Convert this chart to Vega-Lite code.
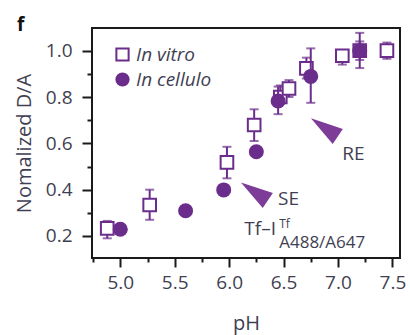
{
  "$schema": "https://vega.github.io/schema/vega-lite/v6.json",
  "width": 308,
  "height": 230,
  "autosize": "none",
  "padding": {"left": 92, "top": 28, "right": 10, "bottom": 77},
  "background": "white",
  "title": {"text": "f", "anchor": "start", "frame": "group", "dx": -75, "dy": 22, "offset": 0, "baseline": "alphabetic", "font": "Open Sans", "fontSize": 19, "fontWeight": "bold", "color": "#111111"},
  "config": {
    "view": {"stroke": "#1a1a1a", "strokeWidth": 2},
    "axis": {"labelFont": "Open Sans", "titleFont": "Open Sans", "labelColor": "#3f3f52", "titleColor": "#3f3f52", "tickColor": "#1a1a1a", "tickWidth": 2, "domain": false, "grid": false, "labelFontSize": 19, "titleFontSize": 20, "titleFontWeight": "normal"}
  },
  "datasets": {
    "pts": [
      {"series": "In vitro", "pH": 4.88, "y": 0.233, "lo": 0.19, "hi": 0.265},
      {"series": "In vitro", "pH": 5.27, "y": 0.334, "lo": 0.27, "hi": 0.40},
      {"series": "In vitro", "pH": 5.98, "y": 0.518, "lo": 0.449, "hi": 0.585},
      {"series": "In vitro", "pH": 6.23, "y": 0.679, "lo": 0.61, "hi": 0.747},
      {"series": "In vitro", "pH": 6.47, "y": 0.80, "lo": 0.77, "hi": 0.85},
      {"series": "In vitro", "pH": 6.55, "y": 0.837, "lo": 0.80, "hi": 0.873},
      {"series": "In vitro", "pH": 6.71, "y": 0.924, "lo": 0.88, "hi": 0.97},
      {"series": "In vitro", "pH": 7.04, "y": 0.978, "lo": 0.94, "hi": 1.0},
      {"series": "In vitro", "pH": 7.2, "y": 1.0, "lo": 0.96, "hi": 1.04},
      {"series": "In vitro", "pH": 7.45, "y": 1.0, "lo": 0.965, "hi": 1.035},
      {"series": "In cellulo", "pH": 5.0, "y": 0.229, "lo": 0.229, "hi": 0.229},
      {"series": "In cellulo", "pH": 5.6, "y": 0.309, "lo": 0.309, "hi": 0.309},
      {"series": "In cellulo", "pH": 5.95, "y": 0.399, "lo": 0.399, "hi": 0.399},
      {"series": "In cellulo", "pH": 6.25, "y": 0.564, "lo": 0.564, "hi": 0.564},
      {"series": "In cellulo", "pH": 6.45, "y": 0.783, "lo": 0.726, "hi": 0.845},
      {"series": "In cellulo", "pH": 6.75, "y": 0.889, "lo": 0.775, "hi": 1.01},
      {"series": "In cellulo", "pH": 7.2, "y": 1.0, "lo": 0.925, "hi": 1.077}
    ],
    "wedges": [
      {"name": "SE", "pH": 6.232, "y": 0.392},
      {"name": "RE", "pH": 6.875, "y": 0.669}
    ],
    "labels": [
      {"text": "SE", "pH": 6.45, "y": 0.334},
      {"text": "RE", "pH": 7.04, "y": 0.528},
      {"text": "Tf–I", "pH": 6.14, "y": 0.204}
    ],
    "sup": [{"text": "Tf", "pH": 6.46, "y": 0.236}],
    "sub": [{"text": "A488/A647", "pH": 6.46, "y": 0.147}],
    "xminor": [{"v": 4.75}, {"v": 5.25}, {"v": 5.75}, {"v": 6.25}, {"v": 6.75}, {"v": 7.25}],
    "yminor": [{"v": 0.3}, {"v": 0.5}, {"v": 0.7}, {"v": 0.9}]
  },
  "resolve": {"axis": {"x": "independent", "y": "independent"}},
  "layer": [
    {
      "data": {"name": "pts"},
      "transform": [{"filter": "datum.series === 'In vitro'"}],
      "mark": {"type": "rule", "color": "#6b2d8b", "strokeWidth": 2},
      "encoding": {
        "x": {"field": "pH", "type": "quantitative", "scale": {"domain": [4.74, 7.57], "nice": false, "zero": false},
          "axis": {"title": "pH", "values": [5, 5.5, 6, 6.5, 7, 7.5], "format": ".1f", "tickSize": 9, "labelPadding": 21, "labelBaseline": "alphabetic", "titleBaseline": "alphabetic", "titleY": 71, "orient": "bottom"}},
        "y": {"field": "lo", "type": "quantitative", "scale": {"domain": [0.105, 1.098], "nice": false, "zero": false},
          "axis": {"title": "Nomalized D/A", "values": [0.2, 0.4, 0.6, 0.8, 1.0], "format": ".1f", "tickSize": 10, "labelPadding": 10, "titleX": -68, "titleBaseline": "middle", "titleAlign": "center", "titleAngle": -90, "orient": "left"}},
        "y2": {"field": "hi"}
      }
    },
    {
      "data": {"name": "pts"},
      "transform": [{"filter": "datum.series === 'In vitro'"}],
      "mark": {"type": "tick", "color": "#6b2d8b", "thickness": 2, "size": 9, "orient": "horizontal"},
      "encoding": {"x": {"field": "pH", "type": "quantitative", "axis": null}, "y": {"field": "lo", "type": "quantitative", "axis": null}}
    },
    {
      "data": {"name": "pts"},
      "transform": [{"filter": "datum.series === 'In vitro'"}],
      "mark": {"type": "tick", "color": "#6b2d8b", "thickness": 2, "size": 9, "orient": "horizontal"},
      "encoding": {"x": {"field": "pH", "type": "quantitative", "axis": null}, "y": {"field": "hi", "type": "quantitative", "axis": null}}
    },
    {
      "data": {"name": "pts"},
      "transform": [{"filter": "datum.series === 'In vitro'"}],
      "mark": {"type": "point", "filled": false, "strokeWidth": 2, "size": 160, "opacity": 1},
      "encoding": {
        "x": {"field": "pH", "type": "quantitative", "axis": null},
        "y": {"field": "y", "type": "quantitative", "axis": null},
        "shape": {"field": "series", "type": "nominal", "scale": {"domain": ["In vitro", "In cellulo"], "range": ["square", "circle"]}, "legend": {"title": null, "orient": "none", "legendX": 21, "legendY": 17, "padding": 0, "labelFont": "Open Sans", "labelFontStyle": "italic", "labelFontSize": 19, "labelColor": "#3f3f52", "symbolSize": 150, "symbolStrokeWidth": 2, "rowPadding": 4, "labelOffset": 4}},
        "fill": {"field": "series", "type": "nominal", "scale": {"domain": ["In vitro", "In cellulo"], "range": ["white", "#6b2d8b"]}},
        "stroke": {"field": "series", "type": "nominal", "scale": {"domain": ["In vitro", "In cellulo"], "range": ["#6b2d8b", "#6b2d8b"]}}
      }
    },
    {
      "data": {"name": "pts"},
      "transform": [{"filter": "datum.series === 'In cellulo'"}],
      "mark": {"type": "rule", "color": "#6b2d8b", "strokeWidth": 2},
      "encoding": {"x": {"field": "pH", "type": "quantitative", "axis": null}, "y": {"field": "lo", "type": "quantitative", "axis": null}, "y2": {"field": "hi"}}
    },
    {
      "data": {"name": "pts"},
      "transform": [{"filter": "datum.series === 'In cellulo' && datum.hi > datum.lo"}],
      "mark": {"type": "tick", "color": "#6b2d8b", "thickness": 2, "size": 9, "orient": "horizontal"},
      "encoding": {"x": {"field": "pH", "type": "quantitative", "axis": null}, "y": {"field": "lo", "type": "quantitative", "axis": null}}
    },
    {
      "data": {"name": "pts"},
      "transform": [{"filter": "datum.series === 'In cellulo' && datum.hi > datum.lo"}],
      "mark": {"type": "tick", "color": "#6b2d8b", "thickness": 2, "size": 9, "orient": "horizontal"},
      "encoding": {"x": {"field": "pH", "type": "quantitative", "axis": null}, "y": {"field": "hi", "type": "quantitative", "axis": null}}
    },
    {
      "data": {"name": "pts"},
      "transform": [{"filter": "datum.series === 'In cellulo'"}],
      "mark": {"type": "point", "filled": true, "strokeWidth": 0, "size": 225, "opacity": 1},
      "encoding": {
        "x": {"field": "pH", "type": "quantitative", "axis": null},
        "y": {"field": "y", "type": "quantitative", "axis": null},
        "shape": {"field": "series", "type": "nominal"},
        "fill": {"field": "series", "type": "nominal"},
        "stroke": {"field": "series", "type": "nominal"}
      }
    },
    {
      "data": {"name": "wedges"},
      "mark": {"type": "point", "shape": "M -1 0 L 1 -0.56 L 1 0.56 Z", "filled": true, "color": "#7d3c98", "opacity": 1, "size": 1050, "angle": 34},
      "encoding": {"x": {"field": "pH", "type": "quantitative", "axis": null}, "y": {"field": "y", "type": "quantitative", "axis": null}}
    },
    {
      "data": {"name": "labels"},
      "mark": {"type": "text", "font": "Open Sans", "fontSize": 19, "color": "#3f3f52", "align": "left", "baseline": "alphabetic"},
      "encoding": {"x": {"field": "pH", "type": "quantitative", "axis": null}, "y": {"field": "y", "type": "quantitative", "axis": null}, "text": {"field": "text"}}
    },
    {
      "data": {"name": "sup"},
      "mark": {"type": "text", "font": "Open Sans", "fontSize": 12, "color": "#3f3f52", "align": "left", "baseline": "alphabetic"},
      "encoding": {"x": {"field": "pH", "type": "quantitative", "axis": null}, "y": {"field": "y", "type": "quantitative", "axis": null}, "text": {"field": "text"}}
    },
    {
      "data": {"name": "sub"},
      "mark": {"type": "text", "font": "Open Sans", "fontSize": 17, "color": "#3f3f52", "align": "left", "baseline": "alphabetic"},
      "encoding": {"x": {"field": "pH", "type": "quantitative", "axis": null}, "y": {"field": "y", "type": "quantitative", "axis": null}, "text": {"field": "text"}}
    },
    {
      "data": {"name": "xminor"},
      "mark": {"type": "point", "opacity": 0},
      "encoding": {"x": {"field": "v", "type": "quantitative", "axis": {"orient": "bottom", "values": [4.75, 5.25, 5.75, 6.25, 6.75, 7.25], "labels": false, "title": null, "tickSize": 4}}}
    },
    {
      "data": {"name": "yminor"},
      "mark": {"type": "point", "opacity": 0},
      "encoding": {"y": {"field": "v", "type": "quantitative", "axis": {"orient": "left", "values": [0.3, 0.5, 0.7, 0.9], "labels": false, "title": null, "tickSize": 5}}}
    }
  ]
}
